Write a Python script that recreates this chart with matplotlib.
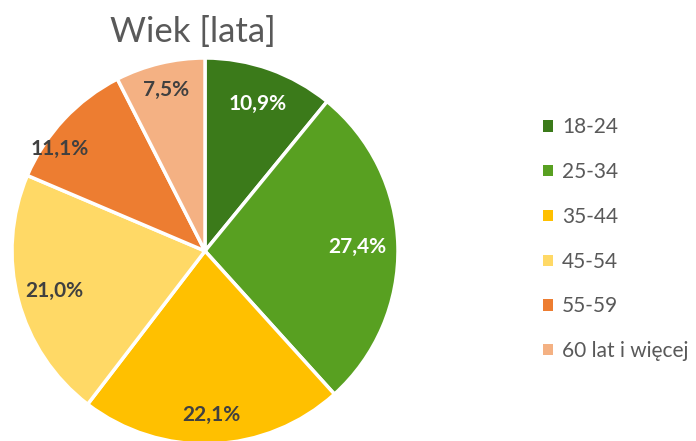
import matplotlib
matplotlib.use("Agg")
import matplotlib.pyplot as plt
from matplotlib.patches import Patch
import numpy as np

categories = ["18-24", "25-34", "35-44", "45-54", "55-59", "60 lat i więcej"]
values = [10.9, 27.4, 22.1, 21.0, 11.1, 7.5]
colors = ["#3B7A1A", "#58A021", "#FFC000", "#FFD966", "#ED7D31", "#F4B183"]
label_colors = ["white", "white", "#404040", "#404040", "#404040", "#404040"]
label_dist = [0.81, 0.79, 0.85, 0.81, 0.92, 0.86]
label_shift = [0, 0, 0, 0, 8, 0]
title = "Wiek [lata]"

plt.rcParams['font.family'] = ['Lato', 'DejaVu Sans']

fig = plt.figure(figsize=(6.96, 4.41), dpi=100)
ax = fig.add_axes([12/696, -3/441, 386/696, 386/441])
wedges, texts, autotexts = ax.pie(
    values, colors=colors, startangle=90, counterclock=False,
    autopct=lambda p: f"{p:.1f}%".replace(".", ","), pctdistance=0.8,
    wedgeprops=dict(edgecolor="white", linewidth=2.5),
    textprops=dict(fontsize=15, fontweight="bold"))
for w, t, c, d, s in zip(wedges, autotexts, label_colors, label_dist, label_shift):
    t.set_color(c)
    ang = np.deg2rad((w.theta1 + w.theta2) / 2 + s)
    t.set_position((d * np.cos(ang), d * np.sin(ang)))
ax.set_xlim(-1, 1)
ax.set_ylim(-1, 1)
ax.set_aspect("equal")
ax.axis("off")

fig.text(193/696, 1 - 32/441, title, ha="center", va="center",
         fontsize=25, color="#595959")

handles = [Patch(facecolor=c, edgecolor="none") for c in colors]
leg = fig.legend(handles, categories, loc="upper left",
                 bbox_to_anchor=(535/696, 1 - 109/441), frameon=False,
                 fontsize=15, handlelength=0.45, handleheight=0.45,
                 handletextpad=0.45, labelspacing=1.19, borderaxespad=0)
for t in leg.get_texts():
    t.set_color("#595959")

fig.savefig("out.png", dpi=100)
